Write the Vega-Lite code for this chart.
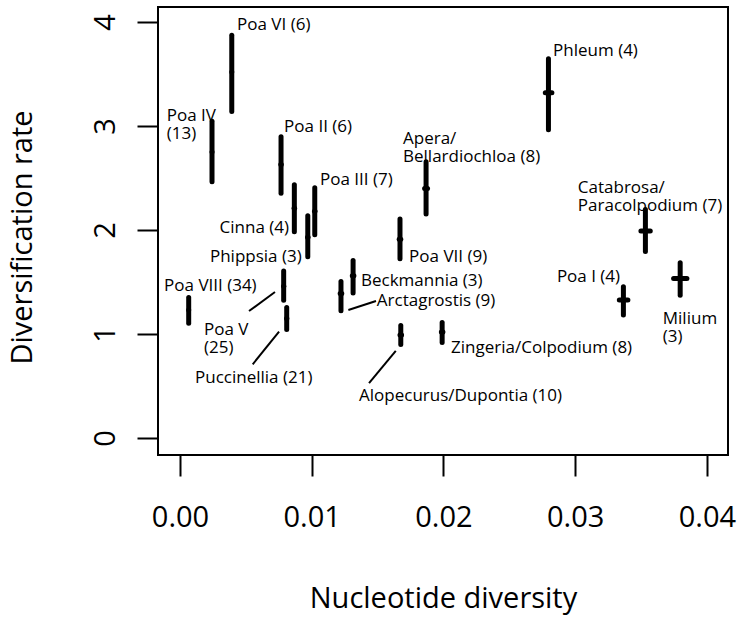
{
  "$schema": "https://vega.github.io/schema/vega-lite/v6.json",
  "width": 570,
  "height": 448,
  "autosize": {"type": "none"},
  "padding": {"left": 158, "top": 7, "right": 15, "bottom": 167},
  "background": "white",
  "config": {
    "view": {"stroke": "black", "strokeWidth": 2},
    "font": "Open Sans",
    "text": {"font": "Open Sans", "fontSize": 17, "color": "black", "lineBreak": "\n", "lineHeight": 18}
  },
  "datasets": {
    "bars": [
      {"name": "Poa VI", "x": 0.00393, "y": 3.52, "ymin": 3.14, "ymax": 3.873, "xmin": 0.00393, "xmax": 0.00393},
      {"name": "Poa IV", "x": 0.00243, "y": 2.75, "ymin": 2.464, "ymax": 3.046, "xmin": 0.00243, "xmax": 0.00243},
      {"name": "Poa II", "x": 0.00767, "y": 2.63, "ymin": 2.354, "ymax": 2.896, "xmin": 0.00765, "xmax": 0.00769},
      {"name": "Cinna", "x": 0.00868, "y": 2.21, "ymin": 1.984, "ymax": 2.436, "xmin": 0.00866, "xmax": 0.0087},
      {"name": "Poa III", "x": 0.01023, "y": 2.18, "ymin": 1.954, "ymax": 2.406, "xmin": 0.01021, "xmax": 0.01025},
      {"name": "Phippsia", "x": 0.0097, "y": 1.93, "ymin": 1.744, "ymax": 2.136, "xmin": 0.00968, "xmax": 0.00972},
      {"name": "Poa V", "x": 0.00787, "y": 1.46, "ymin": 1.324, "ymax": 1.606, "xmin": 0.00786, "xmax": 0.00788},
      {"name": "Puccinellia", "x": 0.0081, "y": 1.15, "ymin": 1.044, "ymax": 1.256, "xmin": 0.00809, "xmax": 0.00811},
      {"name": "Poa VIII", "x": 0.00066, "y": 1.23, "ymin": 1.104, "ymax": 1.351, "xmin": 0.00066, "xmax": 0.00066},
      {"name": "Apera/Bellardiochloa", "x": 0.01868, "y": 2.4, "ymin": 2.154, "ymax": 2.656, "xmin": 0.01857, "xmax": 0.01879},
      {"name": "Poa VII", "x": 0.0167, "y": 1.91, "ymin": 1.724, "ymax": 2.106, "xmin": 0.01664, "xmax": 0.01676},
      {"name": "Beckmannia", "x": 0.01314, "y": 1.56, "ymin": 1.394, "ymax": 1.706, "xmin": 0.01308, "xmax": 0.0132},
      {"name": "Arctagrostis", "x": 0.01222, "y": 1.39, "ymin": 1.224, "ymax": 1.506, "xmin": 0.01216, "xmax": 0.01228},
      {"name": "Alopecurus/Dupontia", "x": 0.01676, "y": 0.99, "ymin": 0.899, "ymax": 1.082, "xmin": 0.0167, "xmax": 0.01682},
      {"name": "Zingeria/Colpodium", "x": 0.0199, "y": 1.02, "ymin": 0.918, "ymax": 1.111, "xmin": 0.01984, "xmax": 0.01996},
      {"name": "Phleum", "x": 0.02797, "y": 3.32, "ymin": 2.964, "ymax": 3.646, "xmin": 0.02773, "xmax": 0.02823},
      {"name": "Catabrosa/Paracolpodium", "x": 0.03533, "y": 1.99, "ymin": 1.794, "ymax": 2.196, "xmin": 0.03499, "xmax": 0.0357},
      {"name": "Poa I", "x": 0.03366, "y": 1.327, "ymin": 1.184, "ymax": 1.454, "xmin": 0.03335, "xmax": 0.034},
      {"name": "Milium", "x": 0.03797, "y": 1.535, "ymin": 1.374, "ymax": 1.686, "xmin": 0.03747, "xmax": 0.03848}
    ],
    "labelsLeft": [
      {"label": "Poa VI (6)", "lx": 0.00433, "ly": 3.97},
      {"label": "Poa IV\n(13)", "lx": -0.00101, "ly": 3.096},
      {"label": "Poa II (6)", "lx": 0.0079, "ly": 2.99},
      {"label": "Poa III (7)", "lx": 0.01063, "ly": 2.48},
      {"label": "Poa VIII (34)", "lx": -0.00121, "ly": 1.464},
      {"label": "Poa V\n(25)", "lx": 0.00182, "ly": 1.04},
      {"label": "Puccinellia (21)", "lx": 0.00114, "ly": 0.58},
      {"label": "Beckmannia (3)", "lx": 0.01374, "ly": 1.513},
      {"label": "Arctagrostis (9)", "lx": 0.01494, "ly": 1.32},
      {"label": "Alopecurus/Dupontia (10)", "lx": 0.01359, "ly": 0.407},
      {"label": "Poa VII (9)", "lx": 0.01739, "ly": 1.743},
      {"label": "Apera/\nBellardiochloa (8)", "lx": 0.01693, "ly": 2.875},
      {"label": "Phleum (4)", "lx": 0.02832, "ly": 3.72},
      {"label": "Catabrosa/\nParacolpodium (7)", "lx": 0.0302, "ly": 2.4},
      {"label": "Milium\n(3)", "lx": 0.03665, "ly": 1.149},
      {"label": "Zingeria/Colpodium (8)", "lx": 0.02058, "ly": 0.868}
    ],
    "labelsRight": [
      {"label": "Cinna (4)", "lx": 0.00828, "ly": 2.02},
      {"label": "Phippsia (3)", "lx": 0.00924, "ly": 1.74},
      {"label": "Poa I (4)", "lx": 0.03341, "ly": 1.551}
    ],
    "leaders": [
      {"name": "Poa V", "x1": 0.00524, "y1": 1.221, "x2": 0.00721, "y2": 1.404},
      {"name": "Puccinellia", "x1": 0.00552, "y1": 0.709, "x2": 0.00752, "y2": 1.022},
      {"name": "Arctagrostis", "x1": 0.01278, "y1": 1.231, "x2": 0.01488, "y2": 1.317},
      {"name": "Alopecurus/Dupontia", "x1": 0.01435, "y1": 0.529, "x2": 0.01638, "y2": 0.839}
    ]
  },
  "layer": [
    {
      "data": {"name": "bars"},
      "mark": {"type": "rule", "strokeWidth": 5, "strokeCap": "round", "color": "black"},
      "encoding": {
        "x": {
          "field": "x", "type": "quantitative",
          "scale": {"domain": [-0.00167, 0.0416], "nice": false, "zero": false},
          "axis": {
            "values": [0, 0.01, 0.02, 0.03, 0.04], "format": ".2f",
            "grid": false, "domain": false,
            "tickSize": 21, "tickWidth": 2, "tickColor": "black",
            "labelFont": "Open Sans", "labelFontSize": 29, "labelColor": "black", "labelPadding": 27,
            "labelFlush": false, "labelOverlap": false,
            "title": "Nucleotide diversity", "titleFont": "Open Sans", "titleFontSize": 29,
            "titleFontWeight": "normal", "titleColor": "black", "titleBaseline": "alphabetic", "titleY": 152
          }
        },
        "y": {
          "field": "ymin", "type": "quantitative",
          "scale": {"domain": [-0.163, 4.144], "nice": false, "zero": false},
          "axis": {
            "values": [0, 1, 2, 3, 4], "format": "d",
            "grid": false, "domain": false,
            "tickSize": 21, "tickWidth": 2, "tickColor": "black",
            "labelFont": "Open Sans", "labelFontSize": 29, "labelColor": "black",
            "labelAngle": 270, "labelAlign": "center", "labelBaseline": "alphabetic", "labelPadding": 23,
            "labelFlush": false, "labelOverlap": false,
            "title": "Diversification rate", "titleFont": "Open Sans", "titleFontSize": 29,
            "titleFontWeight": "normal", "titleColor": "black", "titleAngle": 270,
            "titleBaseline": "alphabetic", "titleAlign": "center", "titleX": -127, "titleY": 230
          }
        },
        "y2": {"field": "ymax"}
      }
    },
    {
      "data": {"name": "bars"},
      "mark": {"type": "rule", "strokeWidth": 5, "strokeCap": "round", "color": "black"},
      "encoding": {
        "x": {"field": "xmin", "type": "quantitative"},
        "x2": {"field": "xmax"},
        "y": {"field": "y", "type": "quantitative"}
      }
    },
    {
      "data": {"name": "leaders"},
      "mark": {"type": "rule", "strokeWidth": 2, "color": "black"},
      "encoding": {
        "x": {"field": "x1", "type": "quantitative"},
        "x2": {"field": "x2"},
        "y": {"field": "y1", "type": "quantitative"},
        "y2": {"field": "y2"}
      }
    },
    {
      "data": {"name": "labelsLeft"},
      "mark": {"type": "text", "align": "left", "baseline": "middle"},
      "encoding": {
        "x": {"field": "lx", "type": "quantitative"},
        "y": {"field": "ly", "type": "quantitative"},
        "text": {"field": "label"}
      }
    },
    {
      "data": {"name": "labelsRight"},
      "mark": {"type": "text", "align": "right", "baseline": "middle"},
      "encoding": {
        "x": {"field": "lx", "type": "quantitative"},
        "y": {"field": "ly", "type": "quantitative"},
        "text": {"field": "label"}
      }
    }
  ]
}
